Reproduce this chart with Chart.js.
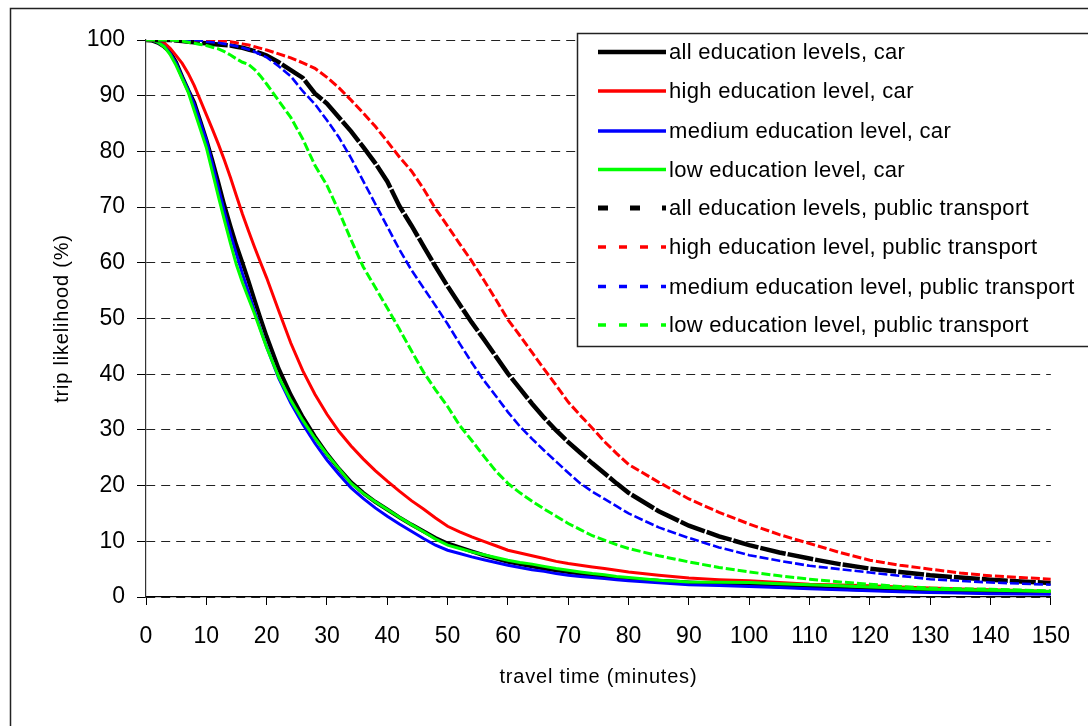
<!DOCTYPE html>
<html>
<head>
<meta charset="utf-8">
<script src="https://cdn.jsdelivr.net/npm/chart.js@4/dist/chart.umd.min.js"></script>
<style>
  html, body { margin: 0; padding: 0; background: #fff; }
  #wrap { width: 1088px; height: 726px; position: relative; }
</style>
</head>
<body>
<div id="wrap"><canvas id="c"></canvas></div>
<script>
// travel time in minutes
const times = [0,1,2,3,4,5,6,7,8,9,10,11,12,13,14,15,16,17,18,19,20,
  22,24,26,28,30,32,34,36,38,40,42,44,46,48,50,52,54,56,58,60,62,64,66,68,70,72,74,76,78,80,
  85,90,95,100,105,110,115,120,125,130,135,140,145,150];

// trip likelihood (%) by car
const allCar = [100,99.9,99.5,98.8,97.8,96.0,93.4,91.0,88.8,85.5,82.1,78.4,74.4,70.3,66.6,63.1,60.0,56.7,53.3,50.0,46.8,
  41.0,36.3,32.3,28.8,25.7,23.0,20.6,18.7,17.1,15.7,14.3,13.0,11.8,10.6,9.6,8.9,8.2,7.5,6.9,6.3,5.9,5.5,5.1,4.8,4.5,4.2,3.9,3.6,3.4,3.2,
  2.9,2.6,2.4,2.2,1.9,1.7,1.5,1.3,1.15,1.0,0.9,0.8,0.75,0.7];
const highCar = [100,100,99.9,99.5,98.5,97.2,95.8,94.0,91.8,89.2,86.6,84.0,81.3,78.4,75.3,72.0,68.7,65.7,62.8,60.0,57.3,
  51.4,45.6,40.6,36.4,32.8,29.7,27.1,24.8,22.7,20.8,19.0,17.3,15.8,14.2,12.7,11.7,10.8,10.0,9.2,8.4,7.9,7.4,6.9,6.4,6.0,5.7,5.4,5.1,4.8,4.5,
  3.9,3.4,3.1,2.9,2.6,2.3,2.15,2.0,1.8,1.6,1.45,1.3,1.15,1.0];
const medCar = [100,100,99.6,98.9,97.6,95.8,93.3,91.0,88.4,85.2,82.0,77.8,73.4,69.2,65.2,61.5,58.0,54.7,51.3,48.0,44.9,
  39.3,34.8,31.0,27.6,24.6,22.0,19.6,17.7,16.0,14.5,13.1,11.8,10.5,9.3,8.4,7.8,7.2,6.7,6.2,5.7,5.3,4.9,4.6,4.2,3.9,3.7,3.5,3.3,3.1,2.9,
  2.55,2.2,2.05,1.9,1.7,1.5,1.3,1.1,0.95,0.8,0.7,0.6,0.55,0.5];
const lowCar = [100,100,99.6,98.8,97.4,95.4,93.0,90.6,87.3,84.0,80.7,76.3,71.9,67.6,63.5,59.6,56.4,53.6,50.8,47.8,44.8,
  39.5,35.3,31.7,28.5,25.6,23.0,20.4,18.6,17.1,15.7,14.3,13.0,11.7,10.4,9.3,8.7,8.1,7.6,7.1,6.6,6.2,5.9,5.5,5.1,4.8,4.5,4.2,4.0,3.7,3.5,
  3.0,2.7,2.65,2.6,2.4,2.2,2.0,1.8,1.6,1.4,1.3,1.2,1.1,1.0];

// trip likelihood (%) by public transport
const allPT = [100,100,100,100,100,99.9,99.8,99.7,99.6,99.5,99.4,99.3,99.2,99.1,99.0,98.8,98.6,98.3,98.0,97.6,97.2,
  96.0,94.6,93.2,90.4,88.6,86.1,83.6,80.8,77.9,74.6,70.2,66.7,63.0,59.3,55.8,52.5,49.3,46.3,43.2,40.1,37.4,34.7,32.2,29.9,27.8,25.9,24.0,22.2,20.4,18.7,
  15.4,12.8,10.9,9.3,8.0,6.9,5.9,5.1,4.5,3.9,3.5,3.1,2.8,2.5];
const highPT = [100,100,100,100,100,100,100,100,100,100,100,99.95,99.9,99.8,99.7,99.5,99.3,99.1,98.8,98.5,98.2,
  97.5,96.8,95.9,94.9,93.3,91.4,89.2,86.9,84.5,81.8,79.0,76.5,73.3,69.7,66.6,63.4,60.3,56.9,53.4,49.8,46.9,43.9,40.9,38.0,35.0,32.6,30.3,27.9,25.8,23.8,
  20.6,17.6,15.2,13.1,11.2,9.6,8.0,6.6,5.7,5.0,4.3,3.8,3.5,3.2];
const medPT = [100,100,100,100,100,100,100,100,100,99.9,99.7,99.6,99.5,99.3,99.1,98.9,98.6,98.3,97.9,97.4,96.9,
  95.3,93.5,90.8,88.5,85.6,82.5,78.8,74.7,70.6,66.5,62.4,58.7,55.5,52.3,49.0,45.5,42.1,38.9,36.1,33.2,30.6,28.4,26.3,24.3,22.3,20.4,18.9,17.6,16.3,15.0,
  12.5,10.6,8.9,7.5,6.5,5.6,5.0,4.4,3.8,3.2,2.9,2.6,2.4,2.2];
const lowPT = [100,100,100,100,100,99.9,99.8,99.6,99.4,99.2,99.0,98.7,98.4,97.9,97.3,96.6,96.0,95.6,94.7,93.5,92.1,
  89.1,86.1,82.2,77.5,73.9,69.2,64.1,59.3,55.6,51.9,48.1,44.2,40.4,37.2,34.2,30.8,28.1,25.3,22.6,20.4,18.7,17.2,15.8,14.5,13.2,12.1,11.0,10.2,9.4,8.7,
  7.4,6.3,5.3,4.5,3.8,3.2,2.7,2.3,1.9,1.6,1.5,1.4,1.25,1.1];

const seriesLabels = [
  'all education levels, car',
  'high education level, car',
  'medium education level, car',
  'low education level, car',
  'all education levels, public transport',
  'high education level, public transport',
  'medium education level, public transport',
  'low education level, public transport'
];
const seriesValues = [allCar, highCar, medCar, lowCar, allPT, highPT, medPT, lowPT];

const xTickValues = [0,10,20,30,40,50,60,70,80,90,100,110,120,130,140,150];
const yTickValues = [0,10,20,30,40,50,60,70,80,90,100];
const xTitle = 'travel time (minutes)';
const yTitle = 'trip likelihood (%)';

// line styles: colour, width, dash in the plot, dash in the key
const styles = [
  { color: '#000000', width: 4,   dash: [],      keyWidth: 4.6, keyDash: [] },
  { color: '#ff0000', width: 3,   dash: [],      keyWidth: 3.3, keyDash: [] },
  { color: '#0000ff', width: 3,   dash: [],      keyWidth: 3.3, keyDash: [] },
  { color: '#00ff00', width: 3,   dash: [],      keyWidth: 3.3, keyDash: [] },
  { color: '#000000', width: 4.5, dash: [26, 2], keyWidth: 5,   keyDash: [10, 22] },
  { color: '#ff0000', width: 3,   dash: [9, 3],  keyWidth: 3.5, keyDash: [8, 13] },
  { color: '#0000ff', width: 2.6, dash: [9, 3],  keyWidth: 3.5, keyDash: [8, 13] },
  { color: '#00ff00', width: 3,   dash: [9, 3],  keyWidth: 3.5, keyDash: [8, 13] }
];

const FONT = "'Liberation Sans', Arial, sans-serif";

const datasets = seriesValues.map((vals, i) => ({
  label: seriesLabels[i],
  data: times.map((t, j) => ({ x: t, y: vals[j] })),
  borderColor: styles[i].color,
  backgroundColor: styles[i].color,
  borderWidth: styles[i].width,
  borderDash: styles[i].dash,
  pointRadius: 0,
  tension: 0,
  fill: false,
  order: seriesValues.length - i
}));

const decor = {
  id: 'decor',
  beforeDraw(chart) {
    const ctx = chart.ctx;
    ctx.save();
    ctx.fillStyle = '#ffffff';
    ctx.fillRect(0, 0, chart.width, chart.height);
    ctx.strokeStyle = '#222';
    ctx.lineWidth = 1.5;
    ctx.strokeRect(10.5, 8.5, chart.width + 20, chart.height + 20);
    ctx.restore();
  },
  afterDraw(chart) {
    const ctx = chart.ctx;
    const area = chart.chartArea;
    ctx.save();
    if ('letterSpacing' in ctx) ctx.letterSpacing = '0.8px';
    ctx.fillStyle = '#000';
    ctx.font = '20px ' + FONT;
    ctx.textAlign = 'center';
    ctx.textBaseline = 'alphabetic';
    ctx.fillText(xTitle, (area.left + area.right) / 2, 683);
    ctx.save();
    ctx.translate(68, (area.top + area.bottom) / 2);
    ctx.rotate(-Math.PI / 2);
    ctx.fillText(yTitle, 0, 0);
    ctx.restore();
    ctx.restore();

    // key box
    ctx.save();
    const bx = 577.5, by = 33.5, bw = 600, bh = 313;
    ctx.fillStyle = '#ffffff';
    ctx.fillRect(bx, by, bw, bh);
    ctx.strokeStyle = '#222';
    ctx.lineWidth = 1.5;
    ctx.strokeRect(bx, by, bw, bh);
    const rowY = [52, 91, 131, 169.5, 208, 247, 286.5, 325];
    chart.data.datasets.forEach((ds, i) => {
      const st = styles[i];
      const y = rowY[i];
      ctx.save();
      ctx.strokeStyle = st.color;
      ctx.lineWidth = st.keyWidth;
      ctx.lineCap = 'butt';
      ctx.setLineDash(st.keyDash);
      ctx.beginPath();
      ctx.moveTo(598, y);
      ctx.lineTo(666, y);
      ctx.stroke();
      ctx.restore();
      ctx.save();
      if ('letterSpacing' in ctx) ctx.letterSpacing = '0.3px';
      ctx.fillStyle = '#000';
      ctx.font = '22px ' + FONT;
      ctx.textAlign = 'left';
      ctx.textBaseline = 'middle';
      ctx.fillText(ds.label, 669, y + 1);
      ctx.restore();
    });
    ctx.restore();
  }
};

new Chart(document.getElementById('c'), {
  type: 'line',
  data: { datasets },
  options: {
    responsive: true,
    maintainAspectRatio: false,
    animation: false,
    events: [],
    layout: { padding: { left: 0, top: 40, right: 25, bottom: 0 } },
    plugins: { legend: { display: false }, tooltip: { enabled: false }, title: { display: false } },
    scales: {
      x: {
        type: 'linear',
        min: 0, max: 150,
        afterFit(scale) { scale.height = 129; },
        afterBuildTicks(scale) { scale.ticks = xTickValues.map(v => ({ value: v })); },
        grid: { display: true, drawOnChartArea: false, drawTicks: true, tickLength: 8, color: '#000', tickColor: '#000', tickWidth: 1, tickBorderDash: [] },
        border: { display: true, color: '#000', width: 1.2 },
        ticks: { color: '#000', font: { family: FONT, size: 23 }, padding: 18, maxRotation: 0, autoSkip: false },
        title: { display: false }
      },
      y: {
        type: 'linear',
        min: 0, max: 100,
        afterFit(scale) { scale.width = 146; },
        afterBuildTicks(scale) { scale.ticks = yTickValues.map(v => ({ value: v })); },
        grid: { display: true, drawOnChartArea: true, drawTicks: true, tickLength: 9, color: '#222', lineWidth: 1, tickColor: '#000', tickWidth: 1, tickBorderDash: [] },
        border: { display: true, color: '#333', width: 1.2, dash: [9, 6] },
        ticks: { color: '#000', font: { family: FONT, size: 23 }, padding: 12, autoSkip: false },
        title: { display: false }
      }
    }
  },
  plugins: [decor]
});
</script>
</body>
</html>
